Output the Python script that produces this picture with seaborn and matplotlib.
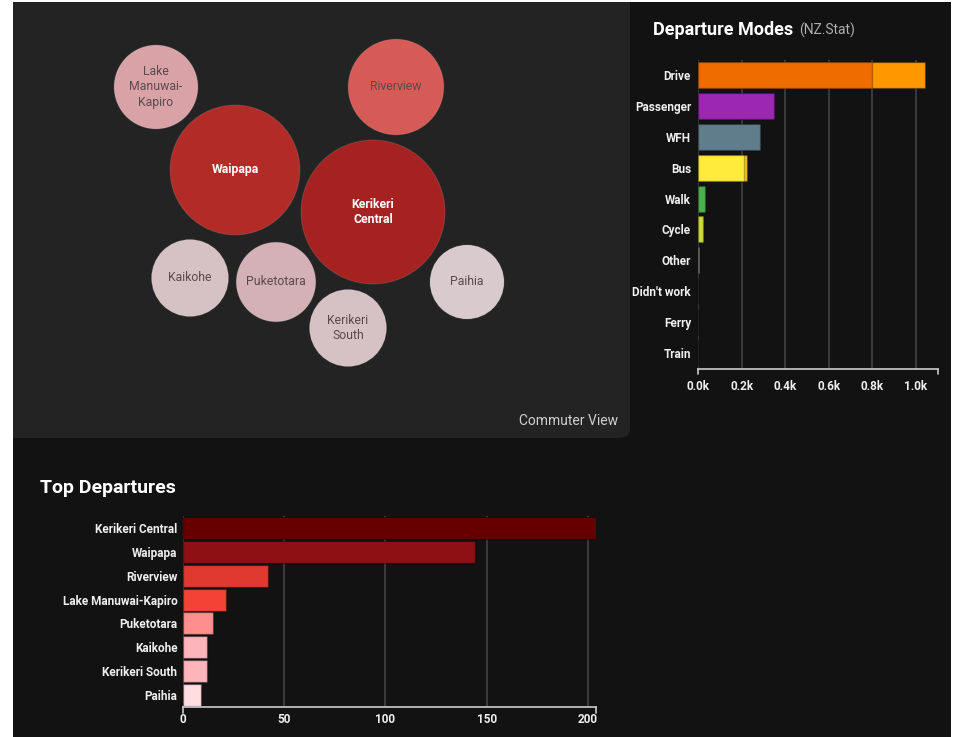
import numpy as np
import pandas as pd
import matplotlib
matplotlib.use("Agg")
import matplotlib.pyplot as plt
from matplotlib.patches import Rectangle, FancyBboxPatch
from matplotlib.ticker import FuncFormatter
import seaborn as sns

# ---------------- data ----------------
dep_names = ["Kerikeri Central", "Waipapa", "Riverview", "Lake Manuwai-Kapiro",
             "Puketotara", "Kaikohe", "Kerikeri South", "Paihia"]
dep_values = [204, 144, 42, 21, 15, 12, 12, 9]
dep_colors = ["#660000", "#8f1014", "#e0392f", "#f44336", "#ff8f8f",
              "#ffb4bb", "#ffb4bb", "#ffdde1"]

mode_names = ["Drive", "Passenger", "WFH", "Bus", "Walk", "Cycle", "Other",
              "Didn't work", "Ferry", "Train"]
mode_primary = [800, 350, 286, 213, 33, 25, 6, 0, 0, 0]
mode_secondary = [240, 0, 0, 10, 0, 0, 0, 0, 0, 0]
mode_colors = ["#ef6c00", "#9c27b0", "#607d8b", "#ffeb3b", "#4caf50",
               "#cddc39", "#9e9e9e", "#9e9e9e", "#9e9e9e", "#9e9e9e"]
mode_colors2 = ["#ff9800", "#9c27b0", "#607d8b", "#fbc02d", "#4caf50",
                "#cddc39", "#9e9e9e", "#9e9e9e", "#9e9e9e", "#9e9e9e"]
mode_ticks = [0, 200, 400, 600, 800, 1000]
dep_ticks = [0, 50, 100, 150, 200]

bubble_labels = ["Lake\nManuwai-\nKapiro", "Riverview", "Waipapa", "Kerikeri\nCentral",
                 "Kaikohe", "Puketotara", "Kerikeri\nSouth", "Paihia"]
bubble_keys = ["Lake Manuwai-Kapiro", "Riverview", "Waipapa", "Kerikeri Central",
               "Kaikohe", "Puketotara", "Kerikeri South", "Paihia"]
bubble_colors = ["#d9a2a7", "#d65a56", "#b22b27", "#a52220",
                 "#d6c2c5", "#d3b1b6", "#d6c2c5", "#d8cacd"]
# layout (force-simulated) positions in panel pixels
bubble_x = [156, 396, 235, 373, 190, 276, 348, 467]
bubble_y = [87, 87, 170, 212, 278, 282, 328, 282]

# ---------------- setup ----------------
W, H = 956, 737
sns.set_theme(style="dark")
plt.rcParams["font.family"] = ["Roboto", "DejaVu Sans"]

fig = plt.figure(figsize=(W / 100, H / 100), dpi=100, facecolor="white")


def rect(l, t, r, b):
    return [l / W, 1 - b / H, (r - l) / W, (b - t) / H]


def frect(l, t, r, b, color, z=-10):
    x, y, w, h = rect(l, t, r, b)
    fig.patches.append(Rectangle((x, y), w, h, transform=fig.transFigure,
                                 facecolor=color, edgecolor="none", zorder=z))


# backgrounds
frect(13, 2, 951, 737, "#121212", -10)
pl = rect(13, 2, 630, 438)
fig.patches.append(FancyBboxPatch((pl[0], pl[1]), pl[2], pl[3],
                                  boxstyle="round,pad=0,rounding_size=0.012",
                                  transform=fig.transFigure, facecolor="#232323",
                                  edgecolor="none", zorder=-9))
frect(13, 2, 615, 438, "#232323", -9)
frect(13, 2, 630, 425, "#232323", -9)

# ---------------- bubble panel ----------------
axb = fig.add_axes(rect(13, 2, 630, 438))
axb.set_facecolor("none")
vals = dict(zip(dep_names, dep_values))
radius_px = [27.7 + 3.1 * np.sqrt(vals[k]) for k in bubble_keys]
bdf = pd.DataFrame({"name": bubble_keys, "x": bubble_x, "y": bubble_y})
sizes = {k: (2 * r * 0.72) ** 2 for k, r in zip(bubble_keys, radius_px)}
sns.scatterplot(data=bdf, x="x", y="y", hue="name", palette=dict(zip(bubble_keys, bubble_colors)),
                size="name", sizes=sizes, legend=False, ax=axb,
                edgecolor=(1, 1, 1, 0.12), linewidth=0.8)
axb.set_xlim(13, 630)
axb.set_ylim(438, 2)
axb.axis("off")
for lab, key, x, y in zip(bubble_labels, bubble_keys, bubble_x, bubble_y):
    big = key in ("Waipapa", "Kerikeri Central")
    axb.text(x, y, lab, ha="center", va="center", fontsize=8.8,
             color="white" if big else "#5a4a4c",
             fontweight="bold" if big else "normal", linespacing=1.25)
fig.text(618 / W, 1 - 421 / H, "Commuter View", ha="right", va="center",
         fontsize=10, color="#cfcfcf")

label_color = "#eeeeee"

# ---------------- departure modes ----------------
axm = fig.add_axes(rect(698, 59.5, 698 + 1.1 * 218, 368.5))
axm.set_facecolor("none")
mdf = pd.DataFrame({"mode": mode_names,
                    "total": np.array(mode_primary) + np.array(mode_secondary),
                    "primary": mode_primary})
sns.barplot(data=mdf, y="mode", x="total", hue="mode", palette=mode_colors2,
            orient="h", width=0.84, legend=False, ax=axm, saturation=1,
            edgecolor=(0, 0, 0, 0.25), linewidth=1)
sns.barplot(data=mdf, y="mode", x="primary", hue="mode", palette=mode_colors,
            orient="h", width=0.84, legend=False, ax=axm, saturation=1,
            edgecolor=(0, 0, 0, 0.25), linewidth=1)
axm.set_xlim(0, 1100)
axm.set_ylim(len(mode_names) - 0.5, -0.5)
axm.set_xticks(mode_ticks)
axm.xaxis.set_major_formatter(FuncFormatter(lambda v, p: f"{v/1000:.1f}k"))
axm.grid(axis="x", color="#3e3e3e", lw=1.3)
axm.grid(axis="y", visible=False)
axm.set_axisbelow(True)
axm.set_xlabel("")
axm.set_ylabel("")
for s in ["top", "right", "left"]:
    axm.spines[s].set_visible(False)
axm.spines["bottom"].set_color("#cccccc")
axm.spines["bottom"].set_linewidth(1.2)
axm.tick_params(axis="both", length=0, labelsize=8.5, labelcolor=label_color, pad=5)
axm.tick_params(axis="x", pad=8)
for t in axm.get_xticklabels() + axm.get_yticklabels():
    t.set_fontweight("bold")
for xx in (0, 1):
    axm.plot([xx, xx], [0, -0.018], transform=axm.transAxes, color="#cccccc",
             lw=1.2, clip_on=False)

t1 = fig.text(653 / W, 1 - 30 / H, "Departure Modes", ha="left", va="center",
              fontsize=13, fontweight="bold", color="white")
fig.canvas.draw()
axm.annotate("(NZ.Stat)", xy=(1, 0.5), xycoords=t1, xytext=(4, 0),
             textcoords="offset points", ha="left", va="center",
             fontsize=10, color="#b0b0b0")

# ---------------- top departures ----------------
axd = fig.add_axes(rect(183, 516, 596, 707))
axd.set_facecolor("none")
ddf = pd.DataFrame({"name": dep_names, "value": dep_values})
sns.barplot(data=ddf, y="name", x="value", hue="name", palette=dep_colors,
            orient="h", width=0.92, legend=False, ax=axd, saturation=1,
            edgecolor=(0, 0, 0, 0.3), linewidth=1)
axd.set_xlim(0, max(dep_values))
axd.set_ylim(len(dep_names) - 0.5, -0.5)
axd.set_xticks(dep_ticks)
axd.grid(axis="x", color="#3e3e3e", lw=1.3)
axd.grid(axis="y", visible=False)
axd.set_axisbelow(True)
axd.set_xlabel("")
axd.set_ylabel("")
for s in ["top", "right", "left"]:
    axd.spines[s].set_visible(False)
axd.spines["bottom"].set_color("#cccccc")
axd.spines["bottom"].set_linewidth(1.2)
axd.tick_params(axis="both", length=0, labelsize=8.5, labelcolor=label_color, pad=4)
for t in axd.get_xticklabels() + axd.get_yticklabels():
    t.set_fontweight("bold")
for xx in (0, 1):
    axd.plot([xx, xx], [0, -0.03], transform=axd.transAxes, color="#cccccc",
             lw=1.2, clip_on=False)

fig.text(40 / W, 1 - 488 / H, "Top Departures", ha="left", va="center",
         fontsize=14, fontweight="bold", color="white")

fig.savefig("out.png", dpi=100, facecolor="white")
